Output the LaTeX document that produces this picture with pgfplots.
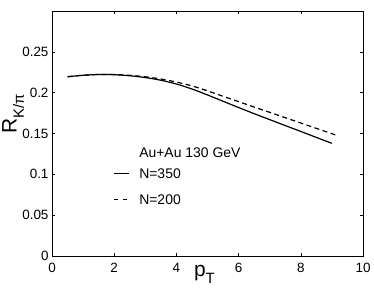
\documentclass[border=0pt]{standalone}
\usepackage{pgfplots}
\pgfplotsset{compat=1.18}
\usepackage{fontspec}
\setmainfont{Liberation Sans}
\begin{document}
\begin{tikzpicture}[x=1bp,y=1bp]
\path[use as bounding box] (-52bp,-34bp) rectangle (322bp,245bp+11bp);
\begin{axis}[
  at={(0,0)}, anchor=south west,
  scale only axis, width=311bp, height=245bp,
  xmin=0, xmax=10, ymin=0, ymax=0.3,
  xtick={0,2,4,6,8,10},
  ytick={0,0.05,0.1,0.15,0.2,0.25},
  yticklabels={0,0.05,0.1,0.15,0.2,0.25},
  xticklabels={0,2,4,6,8,10},
  tick align=inside, tick pos=both,
  major tick length=3bp,
  axis line style={line width=0.8pt},
  tick style={line width=0.6pt, black},
  ticklabel style={font=\fontsize{13.5}{15}\selectfont},
  xticklabel style={yshift=-3.5bp},
  /pgf/number format/assume math mode=true,
  xlabel={p\raisebox{-0.35em}{\fontsize{15}{17}\selectfont T}},
  ylabel={R\raisebox{-0.35em}{\fontsize{15}{17}\selectfont K/π}},
  xlabel style={font=\fontsize{21}{24}\selectfont, at={(axis description cs:0.49,-0.075)}, anchor=center},
  ylabel style={font=\fontsize{21}{24}\selectfont, at={(axis description cs:-0.125,0.58)}, anchor=center},
  clip=false,
]
\addplot[black, line width=1.2pt, smooth, tension=0.5] coordinates {
(0.5,0.2195) (1.0,0.2213) (1.5,0.2222) (2.0,0.2220) (2.5,0.2207) (3.0,0.2185)
(3.5,0.2152) (4.0,0.2106) (4.5,0.2045) (5.0,0.1972) (5.5,0.1895) (6.0,0.1818)
(6.5,0.1743) (7.0,0.1670) (7.5,0.1597) (8.0,0.1525) (8.5,0.1452) (9.0,0.1380)
};
\addplot[black, line width=1.2pt, dash pattern=on 5bp off 3.5bp, smooth, tension=0.5] coordinates {
(0.5,0.2195) (1.0,0.2213) (1.5,0.2223) (2.0,0.2222) (2.5,0.2212) (3.0,0.2195)
(3.5,0.2167) (4.0,0.2130) (4.5,0.2083) (5.0,0.2022) (5.5,0.1956) (6.0,0.1890)
(6.5,0.1824) (7.0,0.1759) (7.5,0.1694) (8.0,0.1628) (8.5,0.1563) (9.13,0.1480)
};
\node[anchor=west, inner sep=0pt, font=\fontsize{14}{16}\selectfont] at (rel axis cs:0.280,0.420) {Au+Au 130 GeV};
\draw[black, line width=1.0pt] (rel axis cs:0.199,0.335) -- (rel axis cs:0.248,0.335);
\node[anchor=west, inner sep=0pt, font=\fontsize{14}{16}\selectfont] at (rel axis cs:0.280,0.335) {N=350};
\draw[black, line width=1.0pt, dash pattern=on 4bp off 5bp] (rel axis cs:0.199,0.229) -- (rel axis cs:0.248,0.229);
\node[anchor=west, inner sep=0pt, font=\fontsize{14}{16}\selectfont] at (rel axis cs:0.280,0.229) {N=200};
\end{axis}
\end{tikzpicture}
\end{document}
